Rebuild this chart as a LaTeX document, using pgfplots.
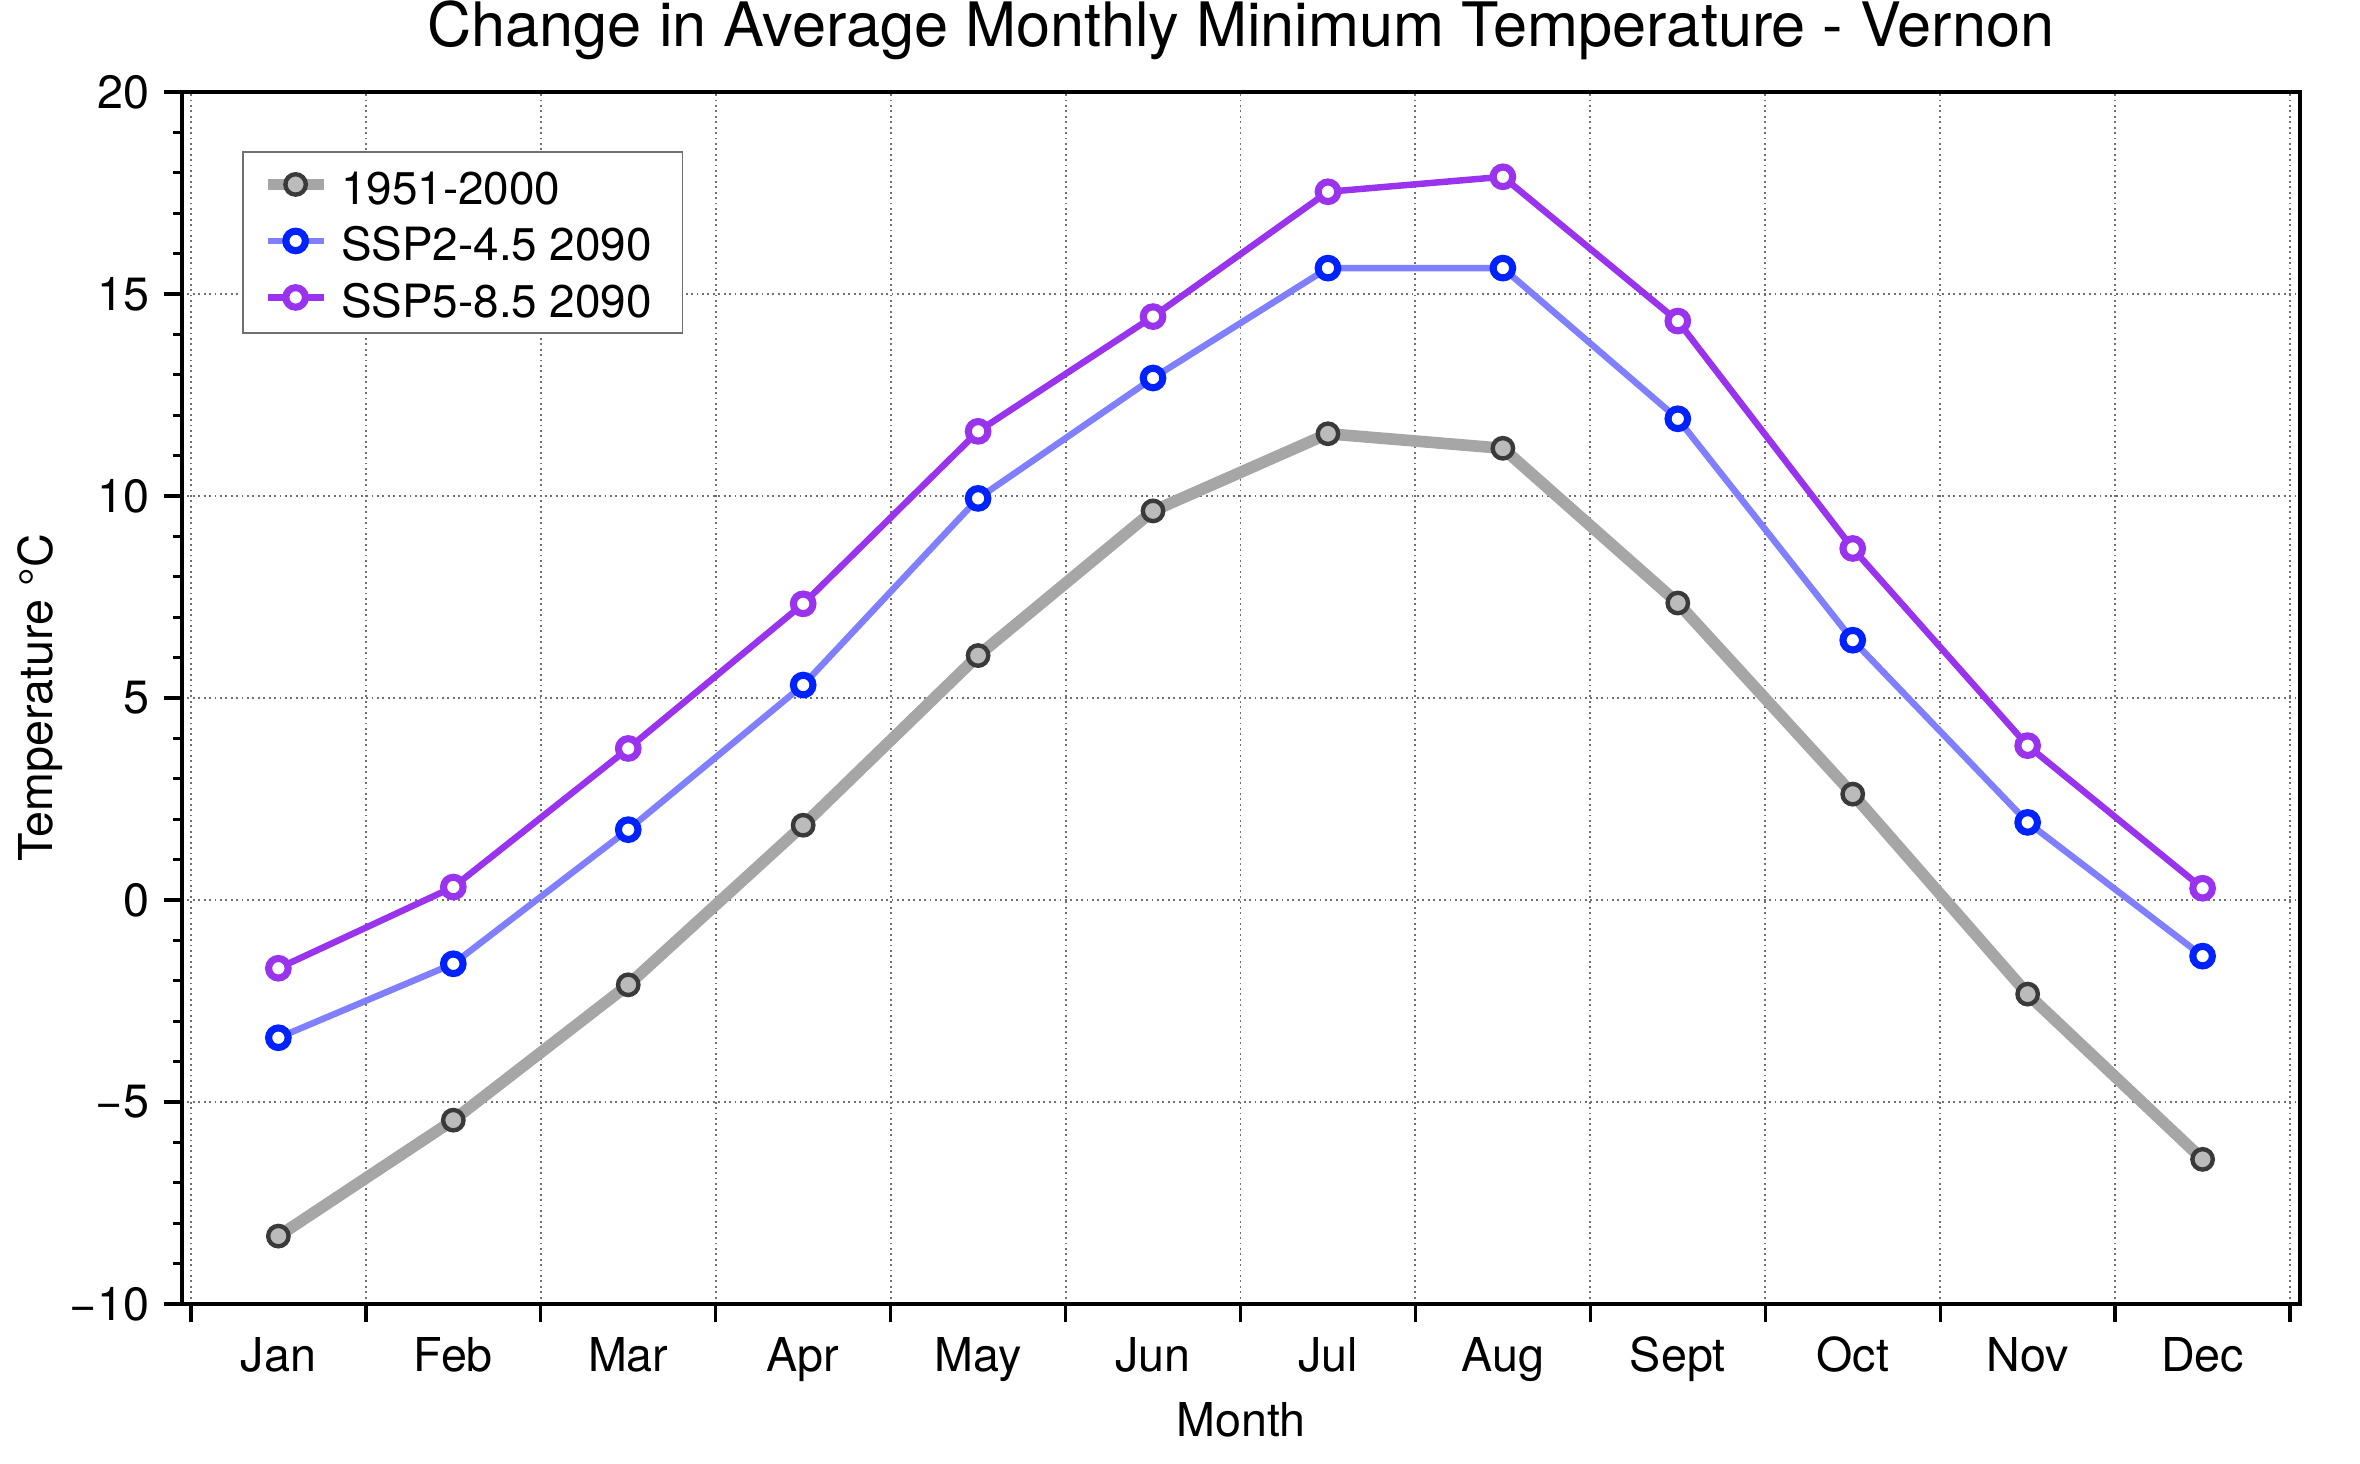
\documentclass[border=0pt]{standalone}
\usepackage{fontspec}
\setmainfont{TeX Gyre Heros}
\usepackage{pgfplots}
\pgfplotsset{compat=1.18}
\definecolor{histline}{HTML}{A6A6A6}
\definecolor{histfill}{HTML}{BBBBBB}
\definecolor{histedge}{HTML}{3A3A3A}
\definecolor{sspline}{HTML}{7F7FFF}
\definecolor{sspmark}{HTML}{0022FF}
\definecolor{hiline}{HTML}{9933EE}
\definecolor{gridc}{HTML}{707070}
\begin{document}
\begin{tikzpicture}
\begin{axis}[
  scale only axis, width=508.32pt, height=290.88pt,
  xmin=-0.551, xmax=11.557, ymin=-10, ymax=20,
  axis line style={line width=0.8pt},
  tick align=outside, xtick pos=bottom, ytick pos=left,
  major tick length=4.4pt, minor tick length=2.2pt,
  every tick/.style={black, line width=0.8pt},
  xtick={-0.5,0.5,...,11.5},
  xticklabels={Jan,Feb,Mar,Apr,May,Jun,Jul,Aug,Sept,Oct,Nov,Dec,{}},
  xticklabel style={font=\fontsize{11.2}{13}\selectfont, xshift=20.99pt},
  ytick={-10,-5,0,5,10,15,20},
  yticklabels={−10,−5,0,5,10,15,20},
  yticklabel style={font=\fontsize{11.2}{13}\selectfont},
  minor y tick num=4,
  xmajorgrids=true, ymajorgrids=true,
  major grid style={gridc, line width=0.45pt, dash pattern=on 0.45pt off 0.85pt},
  title={Change in Average Monthly Minimum Temperature - Vernon},
  title style={font=\fontsize{14.7}{17}\selectfont, at={([yshift=4.8pt]axis description cs:0.5,1)}, anchor=base},
  xlabel={Month},
  xlabel style={font=\fontsize{11.2}{13}\selectfont, at={([yshift=-31.9pt]axis description cs:0.5,0)}, anchor=base},
  ylabel={Temperature °C},
  ylabel style={font=\fontsize{11.2}{13}\selectfont, at={([xshift=-31pt]axis description cs:0,0.5)}, anchor=base},
  legend cell align=left,
  legend style={at={(0.0283,0.951)}, anchor=north west, draw=gridc, line width=0.4pt, fill=white,
    font=\fontsize{11}{13}\selectfont, inner xsep=4.56pt, inner ysep=1.36pt, column sep=0pt,
    nodes={text height=11.14pt, text depth=2.42pt, inner ysep=0pt, inner xsep=2.8pt}},
  legend image code/.code={\draw[mark repeat=2,mark phase=2,#1] plot coordinates {(0pt,0.4pt) (6.72pt,0.4pt) (13.44pt,0.4pt)};},
]
\addplot[histline, line width=2.8pt, mark=*, mark size=2.45pt,
  mark options={fill=histfill, draw=histedge, line width=1.05pt}] coordinates {
  (0,-8.32) (1,-5.45) (2,-2.1) (3,1.85) (4,6.05) (5,9.63)
  (6,11.54) (7,11.18) (8,7.35) (9,2.62) (10,-2.33) (11,-6.42)};
\addlegendentry{1951-2000}
\addplot[sspline, line width=1.55pt, mark=*, mark size=2.35pt,
  mark options={fill=white, draw=sspmark, line width=1.7pt}] coordinates {
  (0,-3.41) (1,-1.58) (2,1.74) (3,5.32) (4,9.94) (5,12.92)
  (6,15.64) (7,15.64) (8,11.91) (9,6.43) (10,1.92) (11,-1.39)};
\addlegendentry{SSP2-4.5 2090}
\addplot[hiline, line width=1.55pt, mark=*, mark size=2.35pt,
  mark options={fill=white, draw=hiline, line width=1.7pt}] coordinates {
  (0,-1.69) (1,0.32) (2,3.75) (3,7.33) (4,11.6) (5,14.44)
  (6,17.53) (7,17.9) (8,14.33) (9,8.7) (10,3.82) (11,0.29)};
\addlegendentry{SSP5-8.5 2090}
\end{axis}
\pgfresetboundingbox
\path ([shift={(-43.68pt,-38.4pt)}]current axis.south west) rectangle ([shift={(14.4pt,22.08pt)}]current axis.north east);
\end{tikzpicture}
\end{document}
